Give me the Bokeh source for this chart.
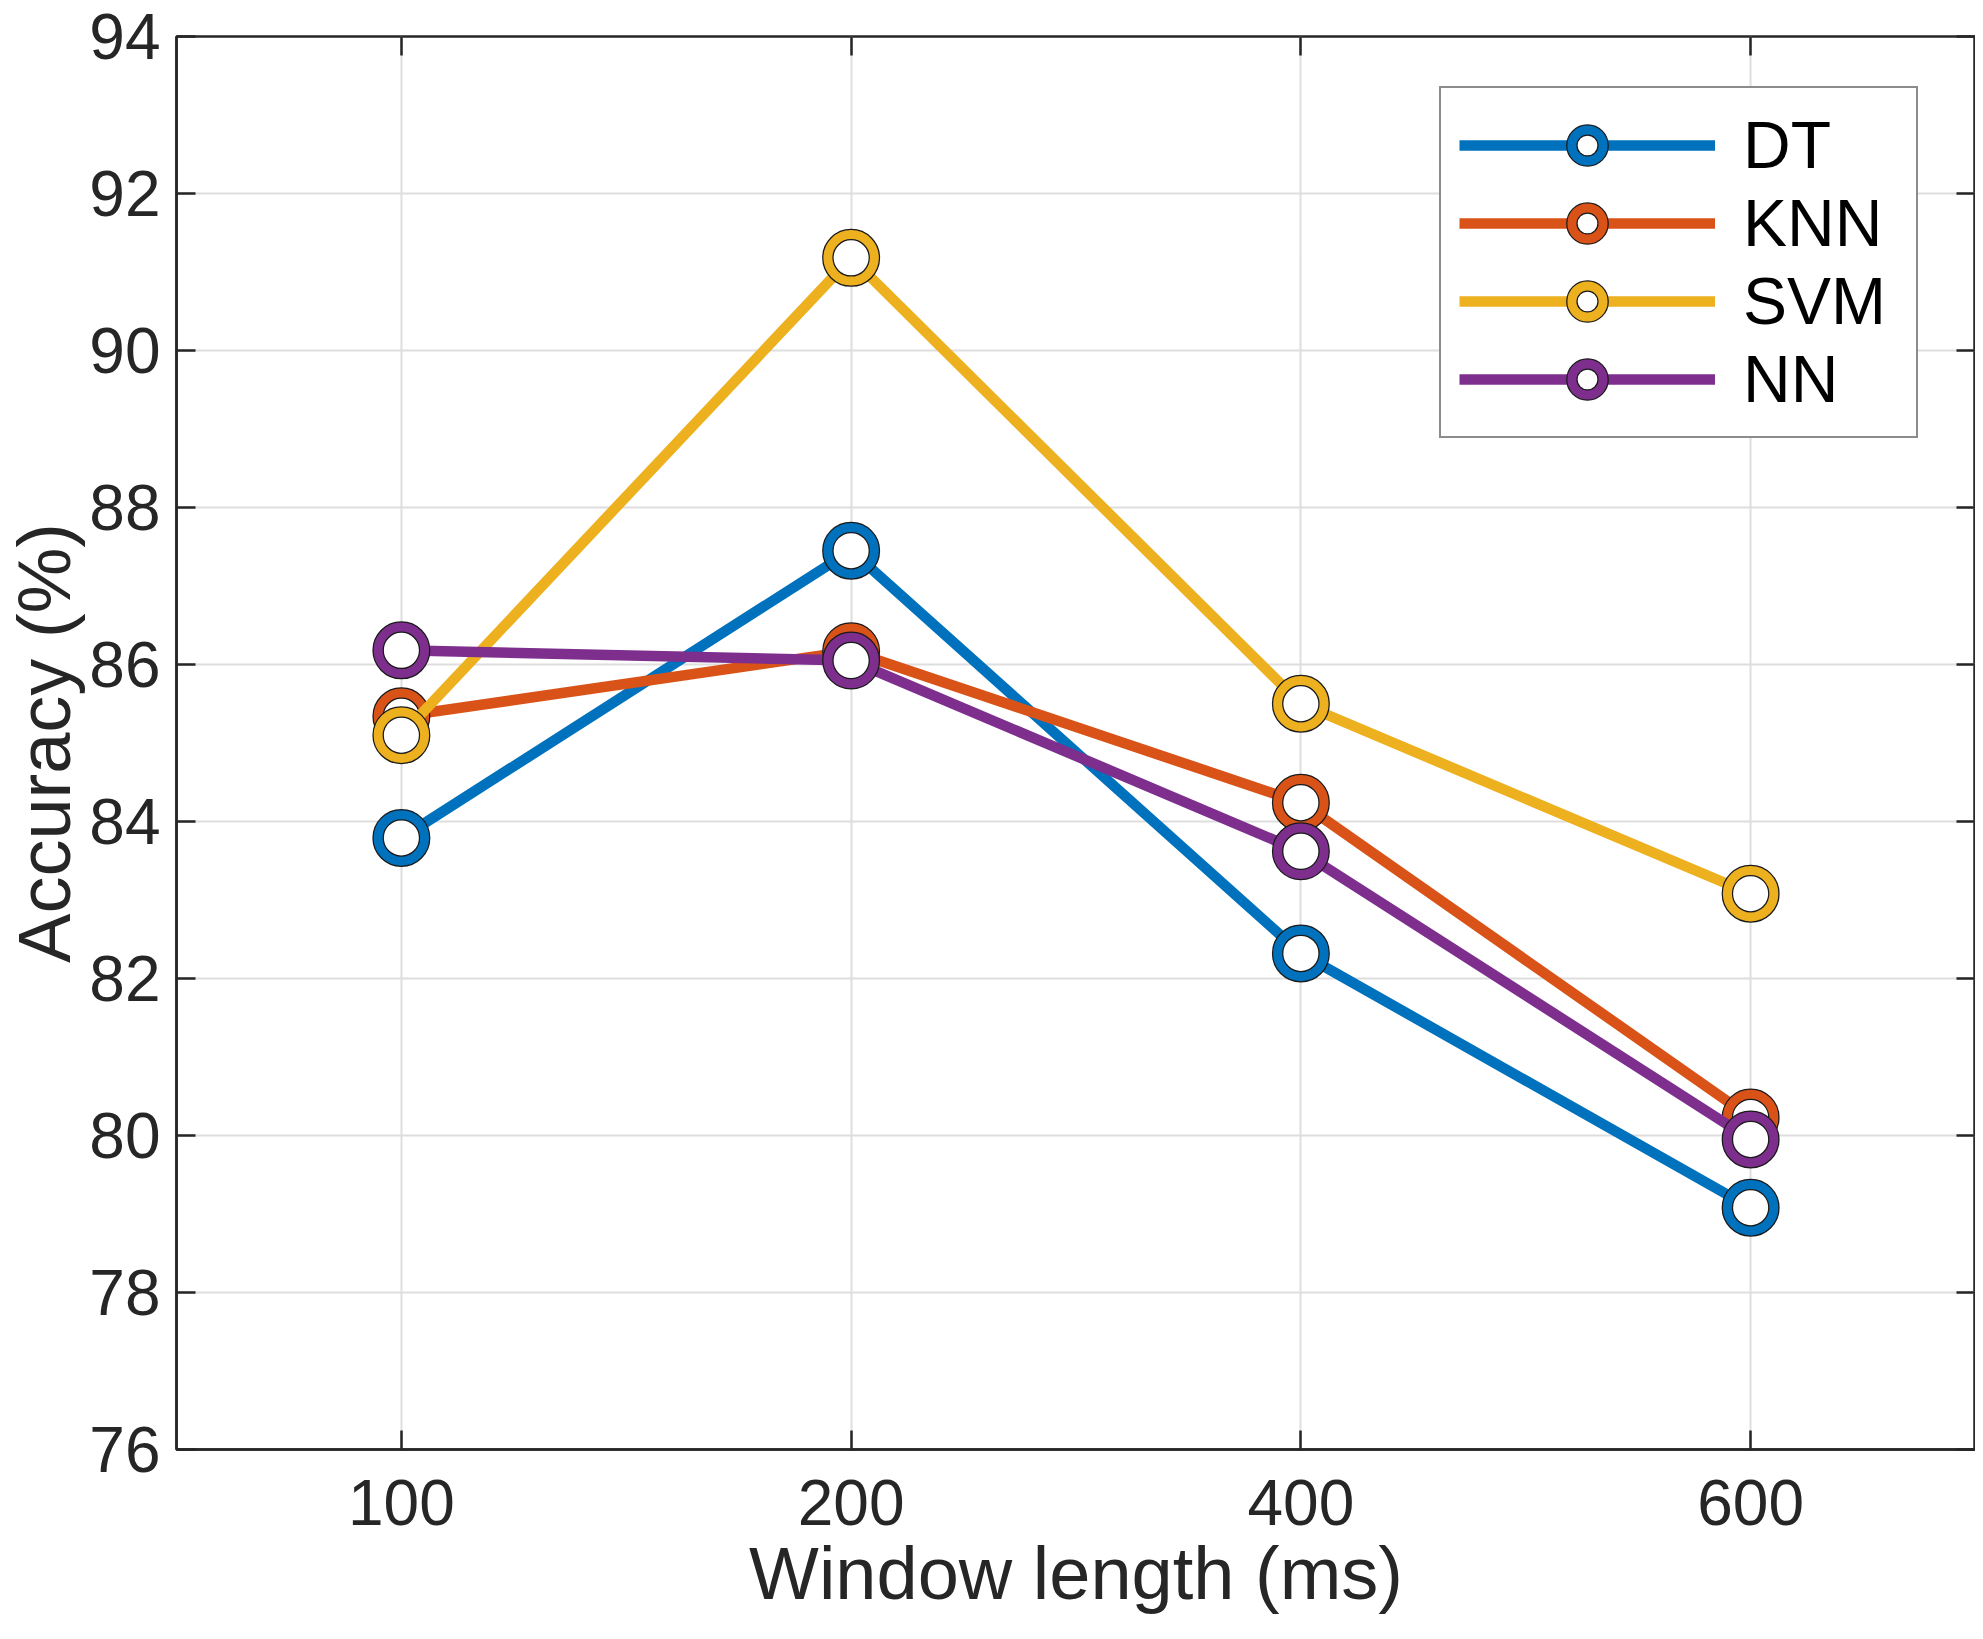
from bokeh.plotting import figure
from bokeh.models import (FactorRange, Range1d, LinearAxis, CategoricalAxis,
                          Legend, LegendItem, FixedTicker)
from bokeh.embed import file_html
from bokeh.resources import INLINE

# ---- data ----
window_lengths = ["100", "200", "400", "600"]
series_names = ["DT", "KNN", "SVM", "NN"]
dt_acc = [83.79, 87.45, 82.32, 79.08]
knn_acc = [85.34, 86.17, 84.24, 80.23]
svm_acc = [85.10, 91.18, 85.50, 83.08]
nn_acc = [86.18, 86.05, 83.62, 79.95]
y_ticks = [76, 78, 80, 82, 84, 86, 88, 90, 92, 94]

series_values = [dt_acc, knn_acc, svm_acc, nn_acc]
colors = ["#0072BD", "#D95319", "#EDB120", "#7E2F8E"]

FONT = "Liberation Sans"
TXT = "#262626"

p = figure(width=1975, height=1623,
           x_range=FactorRange(*window_lengths, range_padding=0),
           y_range=Range1d(76, 94),
           output_backend="svg", toolbar_location=None,
           min_border_left=166, min_border_top=36, min_border_right=0,
           min_border_bottom=174)

p.background_fill_color = "white"
p.border_fill_color = "white"
p.outline_line_color = TXT
p.outline_line_width = 2.5

# grid
p.xgrid.grid_line_color = "#dedede"
p.ygrid.grid_line_color = "#dedede"
p.xgrid.grid_line_width = 2
p.ygrid.grid_line_width = 2

# axes
p.yaxis.ticker = FixedTicker(ticks=y_ticks)
for ax in [p.xaxis[0], p.yaxis[0]]:
    ax.axis_line_color = TXT
    ax.axis_line_width = 2.5
    ax.major_tick_in = 19
    ax.major_tick_out = 0
    ax.major_tick_line_color = TXT
    ax.major_tick_line_width = 2.5
    ax.minor_tick_line_color = None
    ax.major_label_text_font = FONT
    ax.major_label_text_font_size = "64px"
    ax.major_label_text_color = TXT
    ax.axis_label_text_font = FONT
    ax.axis_label_text_font_size = "74px"
    ax.axis_label_text_font_style = "normal"
    ax.axis_label_text_color = TXT

p.xaxis.axis_label = "Window length (ms)"
p.yaxis.axis_label = "Accuracy (%)"
p.xaxis.major_label_standoff = 30
p.xaxis.axis_label_standoff = 4
p.yaxis.major_label_standoff = 16
p.yaxis.axis_label_standoff = 0

# box ticks on top and right (labels not drawn)
top_ax = CategoricalAxis(axis_line_color=None, major_tick_in=19, major_tick_out=0,
                         major_tick_line_color=TXT, major_tick_line_width=2.5,
                         major_label_standoff=0, major_label_text_font_size="1px",
                         major_label_text_color=None)
right_ax = LinearAxis(ticker=FixedTicker(ticks=y_ticks), axis_line_color=None,
                      major_tick_in=19, major_tick_out=0, minor_tick_line_color=None,
                      major_tick_line_color=TXT, major_tick_line_width=2.5,
                      major_label_standoff=0, major_label_text_font_size="1px",
                      major_label_text_color=None)
p.add_layout(top_ax, "above")
p.add_layout(right_ax, "right")

# series
items = []
for name, vals, col in zip(series_names, series_values, colors):
    r_line = p.line(window_lengths, vals, line_color=col, line_width=10.5)
    r_dark = p.scatter(window_lengths, vals, marker="circle", size=46.5,
                       fill_color="white", line_color="#1a1a1a", line_width=11.5)
    r_col = p.scatter(window_lengths, vals, marker="circle", size=46.5,
                      fill_color=None, line_color=col, line_width=9)
    items.append(LegendItem(label=name, renderers=[r_line, r_dark, r_col]))

legend = Legend(items=items, location=(1263, 1011),
                glyph_width=256, glyph_height=78, spacing=0, padding=18,
                label_standoff=28, label_width=155,
                label_text_font=FONT, label_text_font_size="66px",
                label_text_color="black",
                border_line_color="#1a1a1a", border_line_width=2.5,
                background_fill_color="white", background_fill_alpha=1.0)
p.add_layout(legend, "center")

open("out.html", "w").write(file_html(p, INLINE))
